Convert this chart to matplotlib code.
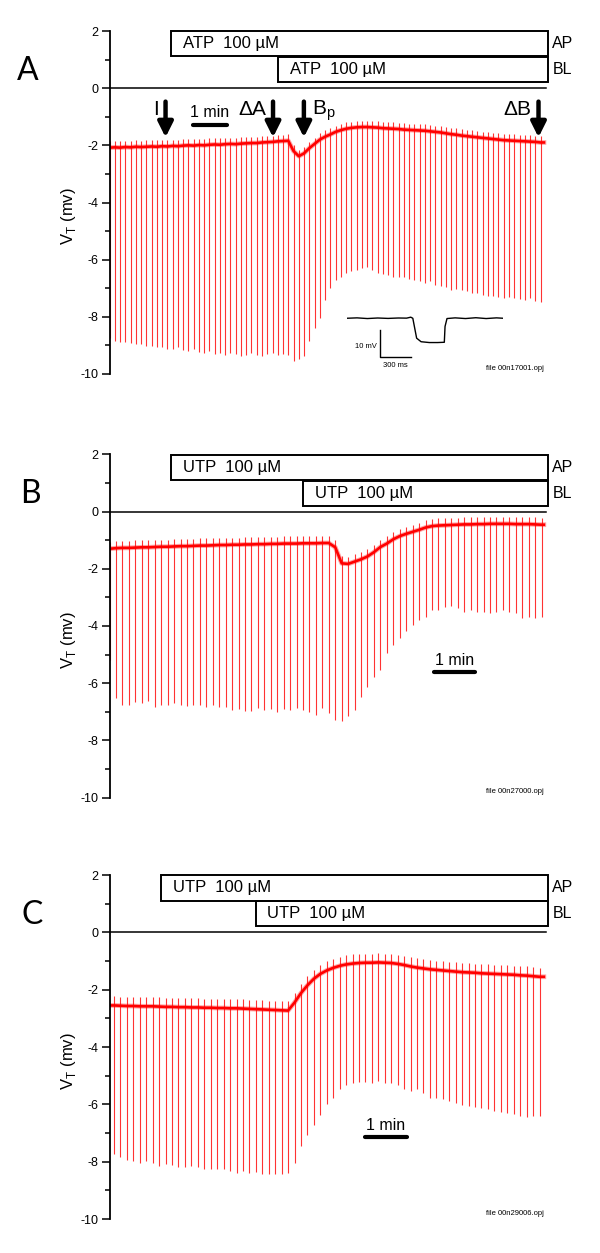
import numpy as np
import matplotlib
matplotlib.use('Agg')
import matplotlib.pyplot as plt
from matplotlib.patches import Rectangle
from matplotlib.transforms import blended_transform_factory

plt.rcParams['font.family'] = ['Liberation Sans', 'DejaVu Sans']
plt.rcParams['axes.unicode_minus'] = False

# time between test pulses (min)
period = 0.155

# ---- Panel A (ATP) : pulse tips and baseline before each pulse (mV) ----
tips_a = [-8.73, -8.84, -8.88, -8.87, -8.90, -8.96, -8.94, -9.02, -9.02, -9.07,
          -9.05, -9.11, -9.13, -9.07, -9.16, -9.19, -9.13, -9.22, -9.25, -9.19,
          -9.31, -9.27, -9.34, -9.25, -9.31, -9.36, -9.34, -9.27, -9.32, -9.36,
          -9.31, -9.27, -9.32, -9.29, -9.34, -9.54, -9.48, -9.36, -8.84, -8.40,
          -8.05, -7.40, -7.00, -6.70, -6.59, -6.47, -6.41, -6.35, -6.30, -6.27,
          -6.35, -6.47, -6.50, -6.55, -6.59, -6.59, -6.62, -6.68, -6.70, -6.76,
          -6.82, -6.76, -6.88, -6.93, -6.96, -7.05, -7.03, -7.05, -7.11, -7.16,
          -7.16, -7.22, -7.26, -7.28, -7.30, -7.34, -7.30, -7.34, -7.37, -7.40,
          -7.34, -7.45, -7.49]
base_a = [-2.08, -2.07, -2.08, -2.06, -2.07, -2.05, -2.06, -2.05, -2.04, -2.05,
          -2.03, -2.04, -2.02, -2.03, -2.01, -2.00, -2.01, -1.99, -2.00, -1.98,
          -1.97, -1.98, -1.96, -1.95, -1.96, -1.94, -1.93, -1.92, -1.92, -1.90,
          -1.89, -1.88, -1.86, -1.85, -1.84, -2.20, -2.38, -2.28, -2.10, -1.95,
          -1.80, -1.70, -1.62, -1.53, -1.47, -1.42, -1.39, -1.37, -1.36, -1.36,
          -1.37, -1.38, -1.40, -1.41, -1.42, -1.43, -1.45, -1.46, -1.47, -1.48,
          -1.49, -1.51, -1.53, -1.55, -1.58, -1.61, -1.63, -1.66, -1.68, -1.70,
          -1.72, -1.74, -1.76, -1.78, -1.80, -1.82, -1.83, -1.84, -1.85, -1.86,
          -1.87, -1.88, -1.90]

# ---- Panel B (UTP) ----
tips_b = [-5.19, -6.53, -6.76, -6.76, -6.67, -6.70, -6.62, -6.82, -6.76, -6.76,
          -6.70, -6.76, -6.79, -6.76, -6.76, -6.82, -6.76, -6.84, -6.82, -6.93,
          -6.91, -6.96, -6.97, -6.88, -6.93, -6.91, -6.99, -6.91, -6.93, -6.88,
          -6.93, -6.99, -7.11, -6.88, -7.05, -7.28, -7.31, -7.14, -6.93, -6.47,
          -6.12, -5.77, -5.53, -4.95, -4.66, -4.43, -4.19, -3.96, -3.79, -3.67,
          -3.44, -3.44, -3.34, -3.30, -3.38, -3.52, -3.44, -3.50, -3.50, -3.53,
          -3.50, -3.44, -3.50, -3.55, -3.73, -3.67, -3.73, -3.67]
base_b = [-1.30, -1.28, -1.27, -1.27, -1.26, -1.25, -1.25, -1.24, -1.23, -1.23,
          -1.22, -1.21, -1.21, -1.20, -1.19, -1.19, -1.18, -1.17, -1.17, -1.16,
          -1.16, -1.15, -1.15, -1.14, -1.14, -1.13, -1.13, -1.12, -1.12, -1.12,
          -1.11, -1.11, -1.11, -1.10, -1.10, -1.25, -1.81, -1.83, -1.75, -1.67,
          -1.57, -1.42, -1.24, -1.12, -0.97, -0.86, -0.78, -0.71, -0.64, -0.56,
          -0.51, -0.49, -0.48, -0.47, -0.46, -0.45, -0.45, -0.44, -0.44, -0.43,
          -0.43, -0.43, -0.43, -0.44, -0.44, -0.44, -0.45, -0.46]

# ---- Panel C (UTP) ----
tips_c = [-7.74, -7.85, -7.93, -7.99, -8.04, -7.96, -8.04, -8.16, -8.08, -8.10,
          -8.18, -8.18, -8.16, -8.19, -8.24, -8.27, -8.25, -8.27, -8.33, -8.38,
          -8.33, -8.38, -8.36, -8.42, -8.42, -8.42, -8.44, -8.38, -8.04, -7.47,
          -7.08, -6.71, -6.37, -6.00, -5.77, -5.48, -5.31, -5.26, -5.23, -5.23,
          -5.26, -5.20, -5.26, -5.26, -5.31, -5.48, -5.54, -5.48, -5.62, -5.77,
          -5.77, -5.82, -5.88, -5.94, -6.03, -6.05, -6.08, -6.14, -6.17, -6.22,
          -6.28, -6.30, -6.34, -6.39, -6.45, -6.39, -6.42]
base_c = [-2.55, -2.56, -2.57, -2.57, -2.58, -2.58, -2.58, -2.59, -2.60, -2.60,
          -2.61, -2.61, -2.62, -2.62, -2.63, -2.63, -2.64, -2.64, -2.65, -2.65,
          -2.66, -2.67, -2.68, -2.69, -2.70, -2.71, -2.72, -2.73, -2.45, -2.12,
          -1.85, -1.62, -1.45, -1.33, -1.24, -1.17, -1.12, -1.09, -1.07, -1.06,
          -1.06, -1.05, -1.06, -1.07, -1.10, -1.14, -1.19, -1.23, -1.26, -1.29,
          -1.31, -1.33, -1.35, -1.37, -1.39, -1.40, -1.41, -1.43, -1.44, -1.45,
          -1.46, -1.47, -1.48, -1.50, -1.51, -1.53, -1.55]

# inset of panel A: one test pulse (ms, mV)
inset_t = [0, 100, 200, 300, 400, 500, 580, 620, 640, 677, 720, 800, 880, 945,
           952, 971, 1050, 1150, 1250, 1350, 1450, 1516]
inset_v = [0.0, 0.15, -0.1, 0.1, -0.05, 0.1, 0.05, 0.4, 0.0, -7.3, -8.6, -8.9,
           -8.9, -8.8, -3.0, -0.1, 0.15, -0.1, 0.2, -0.1, 0.15, 0.0]

W, H = 600, 1253
fig = plt.figure(figsize=(6, 12.53), dpi=100)


def px_axes(x0, x1, ytop, ybot):
    return fig.add_axes([x0 / W, 1 - ybot / H, (x1 - x0) / W, (ybot - ytop) / H])


def draw_panel(ax, letter, t0, tips, base, xmax, t_end, over, drug, ap_x, bl_x,
               letter_x, fname):
    t = t0 + np.arange(len(tips)) * period
    bx = np.concatenate([[0], t, [t_end]])
    by = np.concatenate([[base[0]], base, [base[-1]]])
    ax.plot(bx, by, color='red', lw=3.4, alpha=0.35, solid_joinstyle='round')
    ax.plot(bx, by, color='red', lw=1.9)
    ax.vlines(t, tips, np.array(base) + over, color='red', lw=0.8, alpha=0.8)

    ax.set_xlim(0, xmax)
    ax.set_ylim(-10, 2)
    for s in ['top', 'right', 'bottom']:
        ax.spines[s].set_visible(False)
    ax.spines['left'].set_linewidth(1.3)
    ax.set_xticks([])
    ax.set_yticks(range(-10, 3, 2))
    ax.set_yticks(range(-9, 2, 2), minor=True)
    ax.tick_params(axis='y', which='major', length=6, width=1.1, labelsize=9, pad=2)
    ax.tick_params(axis='y', which='minor', length=3.5, width=1.1)
    ax.set_ylabel('V$_\\mathregular{T}$ (mv)', fontsize=12)
    ax.yaxis.set_label_coords(-0.072, 0.46)
    ax.axhline(0, xmin=0, xmax=0.995, color='black', lw=1.1)

    # drug application bars
    for x_start, y0, y1, lab in [(ap_x, 1.11, 1.99, 'AP'), (bl_x, 0.21, 1.08, 'BL')]:
        ax.add_patch(Rectangle((x_start, y0), xmax - x_start, y1 - y0, fill=False,
                               lw=1.4, ec='black', clip_on=False))
        ax.text(x_start + xmax * 0.027, (y0 + y1) / 2, drug, fontsize=12,
                va='center', ha='left')
        ax.text(1.01, (y0 + y1) / 2, lab, fontsize=11.5, va='center', ha='left',
                transform=blended_transform_factory(ax.transAxes, ax.transData))

    ax.text(letter_x / W, 0.6, letter, fontsize=23, family=['Lato', 'DejaVu Sans'],
            ha='center', va='center',
            transform=blended_transform_factory(fig.transFigure, ax.transData))
    ax.text(0.99, -9.8, fname, fontsize=5.5, ha='right', va='center',
            transform=blended_transform_factory(ax.transAxes, ax.transData))


def scale_bar(ax, x0, x1, y, ytxt):
    ax.plot([x0, x1], [y, y], color='black', lw=3, solid_capstyle='round')
    ax.text((x0 + x1) / 2, ytxt, '1 min', fontsize=11.5, ha='center', va='center')


# ---------------- A ----------------
ax_a = px_axes(109.6, 548, 31, 374)
draw_panel(ax_a, 'A', 0.0, tips_a, base_a, 12.93, 12.81, 0.22,
           'ATP  100 µM', 1.81, 4.97, 28, 'file 00n17001.opj')
scale_bar(ax_a, 2.45, 3.45, -1.30, -0.85)
arrow_kw = dict(arrowstyle='-|>,head_length=0.9,head_width=0.45', lw=3.2,
                color='black', shrinkA=0, shrinkB=0)
for xa in [1.65, 4.82, 5.73, 12.65]:
    ax_a.annotate('', xy=(xa, -1.72), xytext=(xa, -0.47), arrowprops=arrow_kw)
ax_a.text(1.38, -0.75, 'I', fontsize=15, ha='center', va='center')
ax_a.text(4.62, -0.75, 'ΔA', fontsize=15, ha='right', va='center')
ax_a.text(5.98, -0.78, 'B$_\\mathregular{p}$', fontsize=15, ha='left', va='center')
ax_a.text(12.45, -0.75, 'ΔB', fontsize=15, ha='right', va='center')

# inset: single pulse
ax_in = px_axes(346.7, 503.3, 300, 360)
ax_in.plot(inset_t, inset_v, color='black', lw=1.0)
ax_in.set_xlim(0, 1516)
ax_in.set_ylim(-15.3, 6.7)
ax_in.axis('off')
ax_in.plot([322, 322, 622], [-4.3, -14.3, -14.3], color='black', lw=1.0, clip_on=False)
ax_in.text(290, -10.4, '10 mV', fontsize=5.5, ha='right', va='center')
ax_in.text(470, -17.2, '300 ms', fontsize=5.5, ha='center', va='center')

# ---------------- B ----------------
ax_b = px_axes(109.6, 548, 454.3, 797.7)
draw_panel(ax_b, 'B', 0.0, tips_b, base_b, 10.54, 10.44, 0.25,
           'UTP  100 µM', 1.48, 4.65, 30, 'file 00n27000.opj')
scale_bar(ax_b, 7.81, 8.79, -5.60, -5.20)

# ---------------- C ----------------
ax_c = px_axes(109.6, 548, 875, 1219)
draw_panel(ax_c, 'C', 0.106, tips_c, base_c, 10.54, 10.44, 0.32,
           'UTP  100 µM', 1.23, 3.51, 32, 'file 00n29006.opj')
scale_bar(ax_c, 6.14, 7.14, -7.13, -6.73)

fig.savefig('out.png', dpi=100, facecolor='white')
